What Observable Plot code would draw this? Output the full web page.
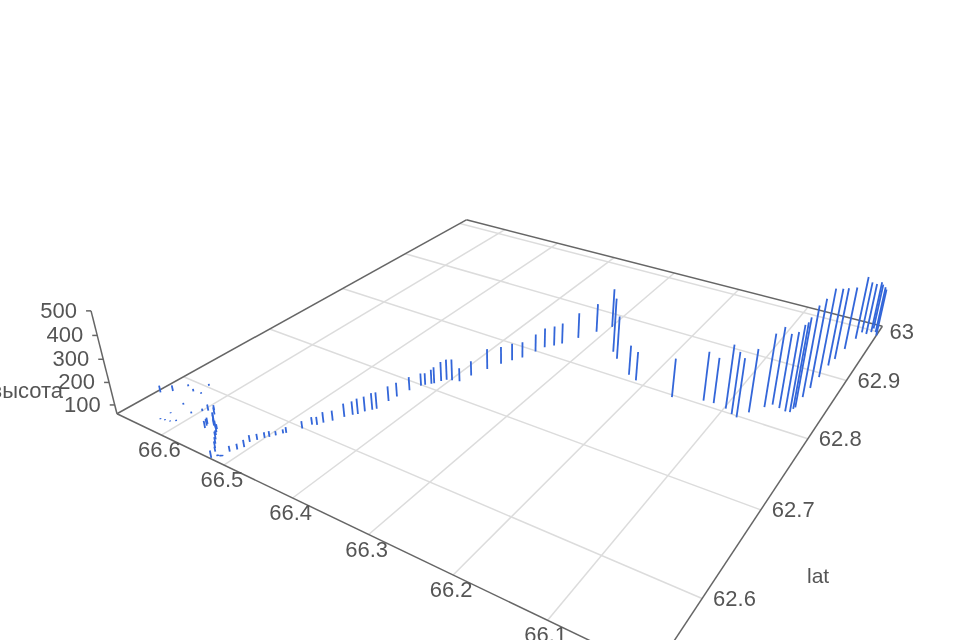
<!DOCTYPE html><html><head><meta charset="utf-8">
<script src="https://cdn.jsdelivr.net/npm/d3@7"></script>
<script src="https://cdn.jsdelivr.net/npm/@observablehq/plot@0.6"></script>
<style>body{margin:0;background:#fff;overflow:hidden}</style></head><body><div id="c"></div>
<script>
// Flight samples: thousandths above 66 (lon), thousandths above 62 (lat), altitude
const lonK=[672,662,655,641,629,635,628,626,626,620,613,608,606,599,594,589,582,576,570,565,561,557,553,549,543,537,531,526,521,572,570,574,518,517,515,514,513,513,509,506,508,504,500,497,493,489,487,478,474,469,466,460,454,449,445,442,437,434,433,431,427,422,419,414,412,408,404,398,389,385,377,370,363,356,350,346,338,332,322,310,299,267,255,225,212,160,126,114,98,88,81,73,62,56,47,39,34,33,32,32,31,30,29,27,24,20,18,12,8,8,3,0];
const latK=[573,580,592,589,590,602,571,557,547,548,549,552,566,573,576,579,575,570,567,564,563,562,559,556,552,548,544,541,534,561,558,563,538,538.5,539,539.5,540,547,552,557,564,569,574,577,581,586,588,599,607,609,614,620,629,635,638,644,649,652,666,675,688,699,702,706,708,714,718,720,722,735,751,765,775,784,799,810,817,824,841,860,876,836,827,809,804,797,806,807,805,800,798,810,824,831,829,827,828,834,837,855,872,893,916,930,952,976,991,990,996,1004,998,992];
const alt=[91,86,69,71,67,69,68,65,65,65,65,66,68,71,88,83,92,90,95,90,90,82,90,82,95,89,90,82,92,90,92,88,66,66,66,66,66,85,85,92,90,87,85,85,79,78,85,93,94,96,107,105,120,120,129,126,135,134,127,123,121,116,113,125,134,148,154,156,121,127,154,139,139,132,142,150,152,157,180,195,244,310,258,195,191,233,278,262,340,331,317,336,380,398,383,403,435,433,448,459,453,454,409,385,348,352,300,300,300,273,277,281];
const lonTicks=[66.6,66.5,66.4,66.3,66.2,66.1];
const latTicks=[62.6,62.7,62.8,62.9,63];
const altTicks=[100,200,300,400,500];
const lonEdge=[66.677,66.0], latEdge=[62.533,63.013], altBase=60, altTop=500;
const rows=lonK.map((v,i)=>({lon:66+v/1000,lat:62+latK[i]/1000,alt:alt[i]}));

// Perspective camera for the box
const q=[[227,395],[601,555],[803,312],[498,233]];
const [x0,y0]=q[0],[x1,y1]=q[1],[x2,y2]=q[2],[x3,y3]=q[3];
const dx1=x1-x2,dx2=x3-x2,sx=x0-x1+x2-x3,dy1=y1-y2,dy2=y3-y2,sy=y0-y1+y2-y3,den=dx1*dy2-dx2*dy1;
const g=(sx*dy2-dx2*sy)/den,h=(dx1*sy-sx*dy1)/den;
const M=[[x1-x0+g*x1,x3-x0+h*x3,x0],[y1-y0+g*y1,y3-y0+h*y3,y0],[g,h,1]];
const vx=509,vy=1972,k=-0.0001367;
const P=(lon,lat,z=altBase)=>{const u=(66.6-lon)/0.5,v=(lat-62.6)/0.4,a=(z-altBase)*k;
  const X=M[0][0]*u+M[0][1]*v+M[0][2]+a*vx,Y=M[1][0]*u+M[1][1]*v+M[1][2]+a*vy,W=M[2][0]*u+M[2][1]*v+M[2][2]+a;
  return [X/W,Y/W]};
const seg=(a,b)=>({a,b});
const link=(data,o)=>Plot.link(data,{x1:d=>d.a[0],y1:d=>d.a[1],x2:d=>d.b[0],y2:d=>d.b[1],...o});
const [lonHi,lonLo]=lonEdge,[latLo,latHi]=latEdge;
const grid=[...lonTicks.map(t=>seg(P(t,latLo),P(t,latHi))),...latTicks.map(t=>seg(P(lonHi,t),P(lonLo,t)))];
const frame=[seg(P(lonHi,latLo),P(lonHi,latHi)),seg(P(lonHi,latHi),P(lonLo,latHi)),seg(P(lonHi,latLo),P(lonLo,latLo)),seg(P(lonLo,latHi),P(lonLo,latLo)),seg(P(lonHi,latLo),P(lonHi,latLo,altTop))];
const zt=altTicks.map(t=>({t,p:P(lonHi,latLo,t)}));
const font={fontFamily:"Liberation Sans, Arial, sans-serif",fontSize:22,fill:"#555"};
const txt=(data,o)=>Plot.text(data,{x:d=>d.p[0],y:d=>d.p[1],text:d=>d.s,...font,...o});
document.getElementById("c").append(Plot.plot({width:960,height:640,margin:0,
 style:{filter:"blur(0.5px)",background:"#fff"},
 x:{domain:[0,960],range:[0,960],axis:null},y:{domain:[0,640],range:[0,640],axis:null},
 marks:[
  link(grid,{stroke:"#dcdcdc",strokeWidth:1.5}),
  link(frame,{stroke:"#666",strokeWidth:1.5}),
  Plot.link(zt,{x1:d=>d.p[0],y1:d=>d.p[1],x2:d=>d.p[0]-5,y2:d=>d.p[1],stroke:"#666",strokeWidth:1.5}),
  Plot.link(rows,{x1:d=>P(d.lon,d.lat)[0],y1:d=>P(d.lon,d.lat)[1],x2:d=>P(d.lon,d.lat,d.alt)[0],y2:d=>P(d.lon,d.lat,d.alt)[1],stroke:"#3366d9",strokeWidth:1.8}),
  txt(zt.map(d=>({p:d.p,s:String(d.t)})),{textAnchor:"end",dx:-14}),
  txt(lonTicks.map(t=>({p:P(t,latLo),s:String(t)})),{dx:-2,dy:15}),
  txt(latTicks.map(t=>({p:P(lonLo,t),s:String(t)})),{textAnchor:"start",dx:11}),
  txt([{p:P(lonLo,62.6),s:"lat"}],{dx:116,dy:-22,fontSize:21}),
  txt([{p:P(lonHi,latLo,200),s:"высота"}],{textAnchor:"end",dx:-46,dy:9,fontSize:22})
 ]}));
</script></body></html>
